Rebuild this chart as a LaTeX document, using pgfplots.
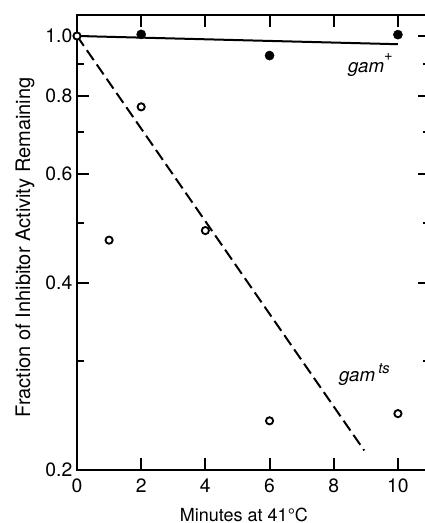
\documentclass[border=0pt]{standalone}
\usepackage{fontspec}
\setmainfont{TeX Gyre Heros}
\usepackage{pgfplots}
\pgfplotsset{compat=1.18}

\begin{document}
\begin{tikzpicture}
% page = 424x523 px at 0.75pt per px
\useasboundingbox (-57.75pt,-39.75pt) rectangle (260.25pt,352.5pt);
\begin{axis}[
    at={(0,0)}, anchor=south west,
    scale only axis,
    width=264.75pt, height=341.25pt,
    xmin=0, xmax=11,
    ymode=log, ymin=0.2, ymax=1.081,
    axis line style={line width=1.2pt},
    xtick pos=both, ytick pos=both,
    every tick/.style={black, line width=1.5pt},
    tick align=inside,
    major tick length=9pt, minor tick length=5pt,
    xtick={0,2,4,6,8,10}, xticklabels={0,2,4,6,8,10},
    ytick={0.2,0.4,0.6,0.8,1.0}, yticklabels={0.2,0.4,0.6,0.8,1.0},
    minor ytick={0.3,0.5,0.7,0.9},
    xticklabel pos=lower, yticklabel pos=left,
    ticklabel style={font=\fontsize{14.5}{16}\selectfont},
    xticklabel style={yshift=-3pt},
    xlabel={Minutes at 41°C},
    ylabel={Fraction of Inhibitor Activity Remaining},
    xlabel style={font=\fontsize{13.5}{15}\selectfont, at={(axis description cs:0.473,0)}, anchor=base, yshift=-38.25pt},
    ylabel style={font=\fontsize{15}{17}\selectfont, at={(axis description cs:-0.147,0.489)}, anchor=center},
]
% gam+ fit
\addplot[black, line width=1.5pt] coordinates {(0,1.0) (10,0.97)};
% gam ts fit
\addplot[black, line width=1.5pt, dash pattern=on 9pt off 4pt] coordinates {(0,1.0) (8.95,0.215)};
% gam+ points
\addplot[only marks, mark=*, mark size=3.4pt, black] coordinates {
    (2,1.006) (6,0.93) (10,1.005)
};
% gam ts points
\addplot[only marks, mark=*, mark size=2.7pt, black,
    mark options={fill=white, draw=black, line width=1.4pt}] coordinates {
    (0,1.0) (1,0.469) (2,0.769) (4,0.486) (6,0.240) (10,0.2465)
};
\node[anchor=base west, inner sep=0pt, font=\fontsize{14}{16}\selectfont\itshape] at (axis cs:8.44,0.875)
    {gam\raisebox{0.6em}{\fontsize{11}{12}\selectfont\upshape +}};
\node[anchor=base west, inner sep=0pt, font=\fontsize{14}{16}\selectfont\itshape] at (axis cs:8.16,0.2775)
    {gam\,\raisebox{0.45em}{\fontsize{11}{12}\selectfont ts}};
\end{axis}
\end{tikzpicture}
\end{document}
